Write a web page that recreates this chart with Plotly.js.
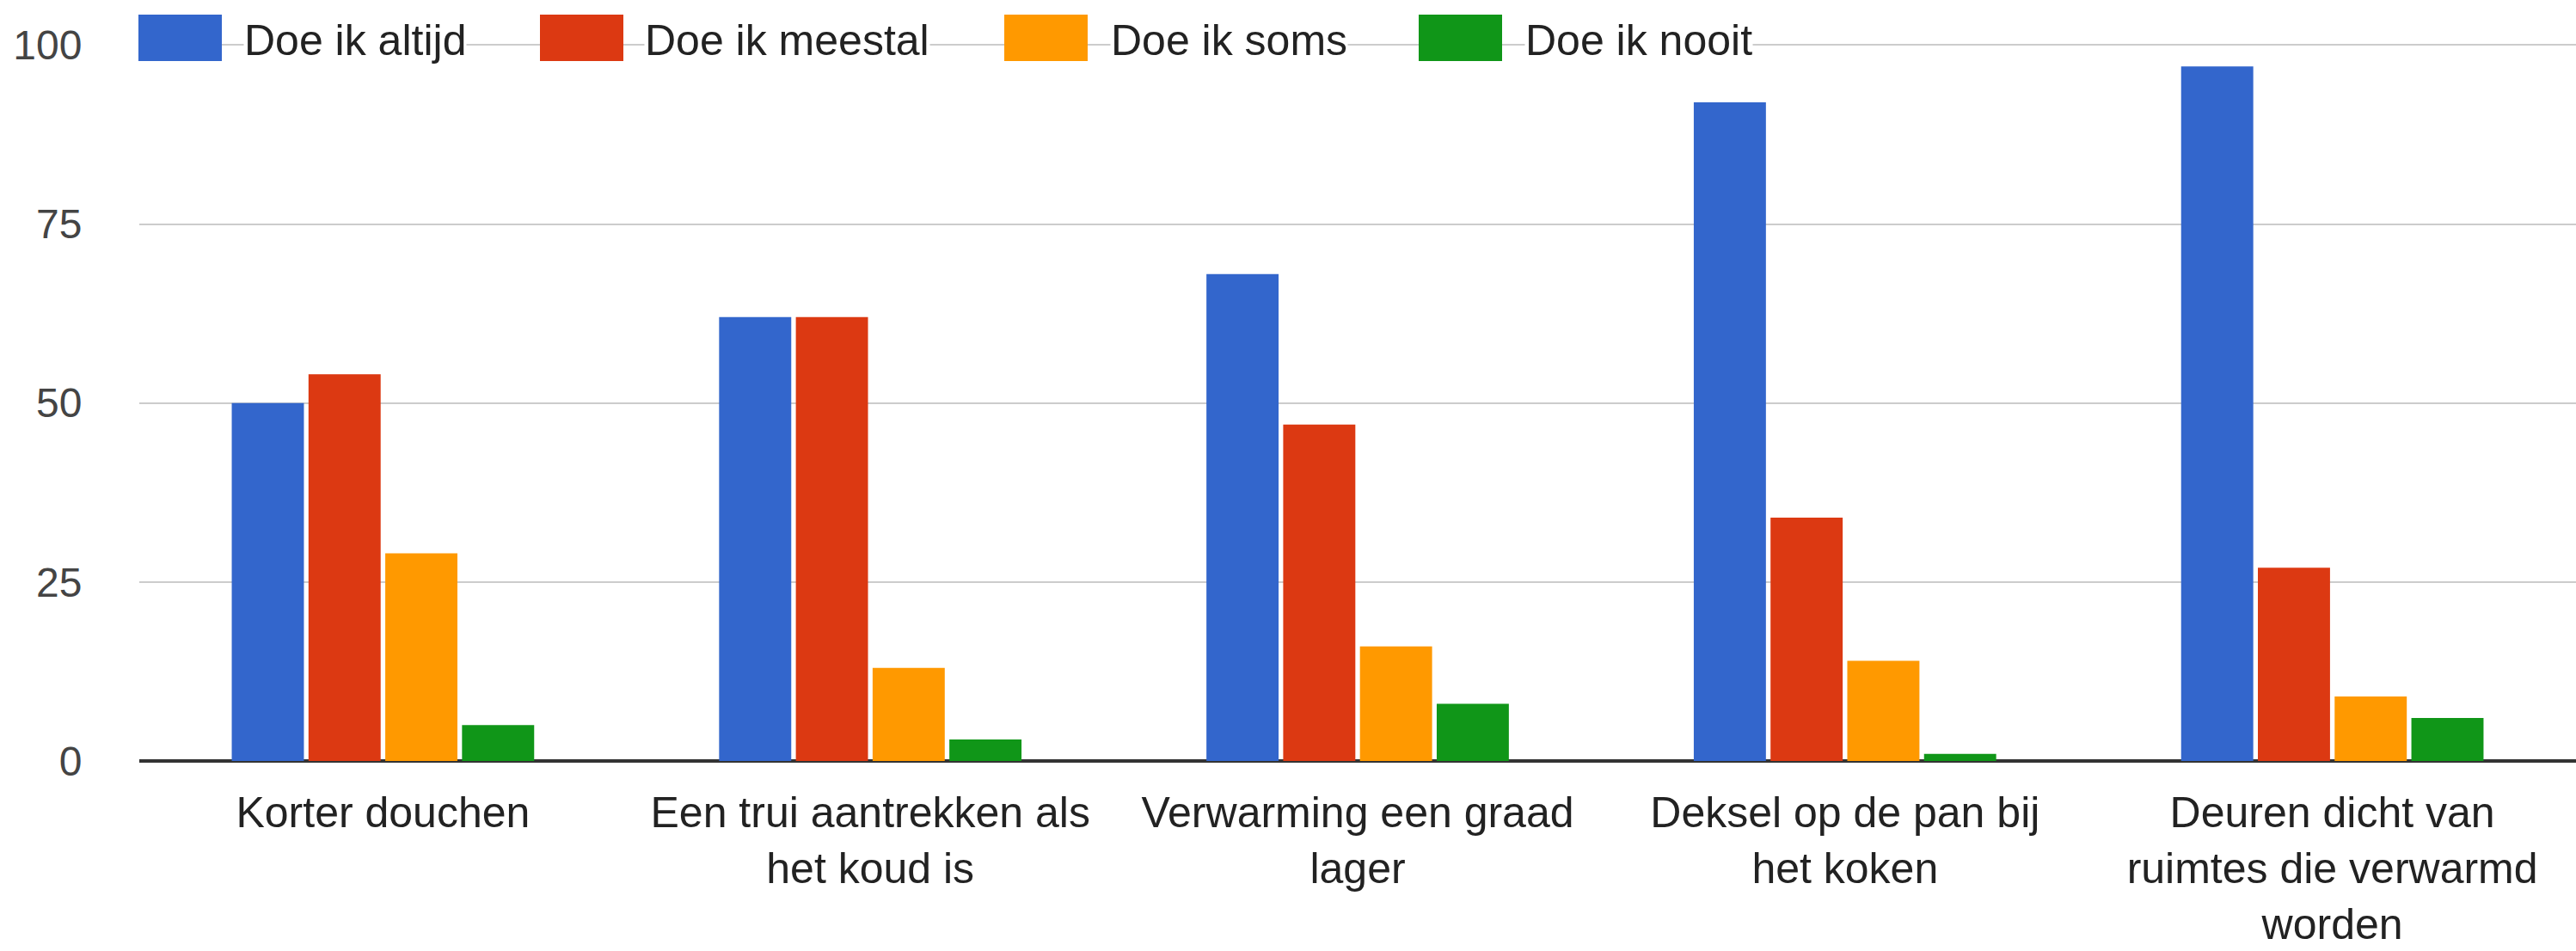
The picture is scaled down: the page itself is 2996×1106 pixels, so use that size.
<!DOCTYPE html>
<html>
<head>
<meta charset="utf-8">
<script src="https://cdn.plot.ly/plotly-3.0.1.min.js"></script>
<style>
html,body{margin:0;padding:0;background:#ffffff;}
#chart{width:2996px;height:1106px;}
</style>
</head>
<body>
<div id="chart"></div>
<script>
// ---- data ----
const categories = [
  "Korter douchen",
  "Een trui aantrekken als<br>het koud is",
  "Verwarming een graad<br>lager",
  "Deksel op de pan bij<br>het koken",
  "Deuren dicht van<br>ruimtes die verwarmd<br>worden"
];
const seriesNames = ["Doe ik altijd", "Doe ik meestal", "Doe ik soms", "Doe ik nooit"];
const altijd  = [50, 62, 68, 92, 97];
const meestal = [54, 62, 47, 34, 27];
const soms    = [29, 13, 16, 14, 9];
const nooit   = [5, 3, 8, 1, 6];
const yTickVals = [0, 25, 50, 75, 100];
const yTickText = ["0", "25", "50", "75", "100"];

// ---- style ----
const colors = ["#3366cc", "#dc3912", "#ff9900", "#109618"];
const FONT = "'Liberation Sans', Arial, Helvetica, sans-serif";
const W = 2996, H = 1106;
const M = {l: 162, r: 0, t: 44, b: 221};
const Y_RANGE = [0, 101];

const seriesValues = [altijd, meestal, soms, nooit];
const traces = seriesNames.map((name, i) => ({
  type: "bar",
  name: name,
  x: categories,
  y: seriesValues[i],
  marker: {color: colors[i], line: {width: 0}},
  hoverinfo: "x+y+name"
}));

// custom legend (large swatches, as in the reference), pixel → paper conversion
const plotW = W - M.l - M.r, plotH = H - M.t - M.b;
const px2x = p => (p - M.l) / plotW;
const py2y = p => (H - M.b - p) / plotH;
const swatchLeft = [161, 628, 1168, 1650];
const textLeft = [283, 749, 1291, 1773];
const swatchW = 97, swatchTop = 17, swatchBottom = 71, textMid = 47;

const shapes = [];
const annotations = [];
seriesNames.forEach((name, i) => {
  shapes.push({
    type: "rect", xref: "paper", yref: "paper", layer: "above",
    x0: px2x(swatchLeft[i]), x1: px2x(swatchLeft[i] + swatchW),
    y0: py2y(swatchBottom), y1: py2y(swatchTop),
    fillcolor: colors[i], line: {width: 0}
  });
  annotations.push({
    xref: "paper", yref: "paper",
    x: px2x(textLeft[i]), y: py2y(textMid),
    xanchor: "left", yanchor: "middle",
    text: name, showarrow: false,
    bgcolor: "#ffffff", borderpad: 0,
    font: {family: FONT, size: 50, color: "#222222"}
  });
});

const layout = {
  width: W, height: H,
  margin: M,
  paper_bgcolor: "#ffffff",
  plot_bgcolor: "#ffffff",
  showlegend: false,
  barmode: "group",
  bargap: 0.37,
  bargroupgap: 0.06,
  font: {family: FONT, size: 48, color: "#222222"},
  xaxis: {
    type: "category",
    showgrid: false,
    showline: false,
    zeroline: false,
    ticks: "outside",
    ticklen: 16,
    tickcolor: "rgba(0,0,0,0)",
    tickfont: {family: FONT, size: 50, color: "#222222"},
    automargin: false
  },
  yaxis: {
    range: Y_RANGE,
    tickmode: "array",
    tickvals: yTickVals,
    ticktext: yTickText,
    showgrid: true,
    gridcolor: "#cccccc",
    gridwidth: 2,
    zeroline: true,
    zerolinecolor: "#333333",
    zerolinewidth: 4,
    showline: false,
    ticks: "outside",
    ticklen: 56,
    tickcolor: "rgba(0,0,0,0)",
    tickfont: {family: FONT, size: 48, color: "#444444"},
    automargin: false,
    fixedrange: true
  },
  shapes: shapes,
  annotations: annotations
};

Plotly.newPlot("chart", traces, layout, {displayModeBar: false, staticPlot: true});
</script>
</body>
</html>
